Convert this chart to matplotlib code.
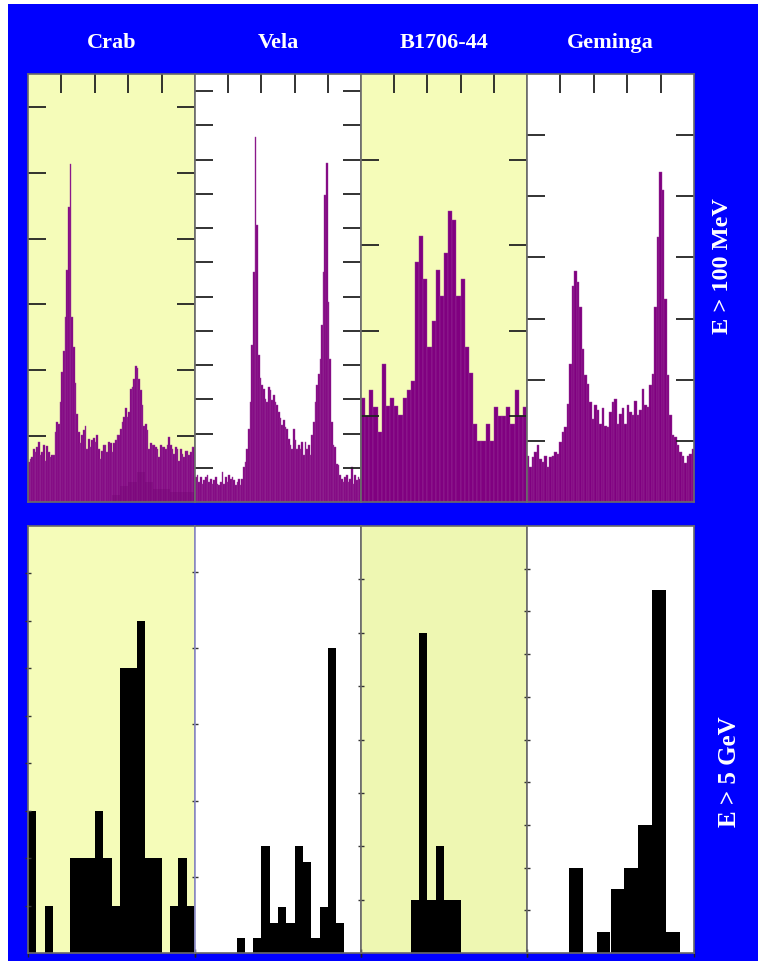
import matplotlib
matplotlib.use("Agg")
import matplotlib.pyplot as plt
from matplotlib.patches import Rectangle

# pulsar names (column titles) and energy bands (row labels)
names = ["Crab", "Vela", "B1706-44", "Geminga"]
bands = ["E > 100 MeV", "E > 5 GeV"]

# E > 100 MeV light curves, counts per phase bin in units of the y tick step
crab_hi = [0.61, 0.66, 0.68, 0.81, 0.76, 0.84, 0.91, 0.71, 0.76, 0.87,
           0.62, 0.85, 0.76, 0.68, 0.72, 0.71, 1.07, 1.21, 1.19, 1.52,
           1.97, 2.30, 2.81, 3.52, 4.48, 5.13, 2.81, 2.35, 1.80, 1.34,
           1.06, 0.89, 1.01, 1.09, 1.16, 0.81, 0.96, 0.84, 0.94, 0.97,
           0.91, 1.02, 0.81, 0.66, 0.77, 0.86, 0.87, 0.76, 0.91, 0.90,
           0.76, 0.89, 0.94, 1.01, 1.02, 1.11, 1.22, 1.29, 1.42, 1.29,
           1.37, 1.72, 1.75, 1.87, 2.07, 2.03, 1.87, 1.70, 1.47, 1.16,
           1.19, 1.09, 0.81, 0.89, 0.86, 0.86, 0.84, 0.81, 0.68, 0.86,
           0.84, 0.84, 0.81, 0.86, 0.99, 0.86, 0.81, 0.73, 0.84, 0.81,
           0.63, 0.81, 0.73, 0.68, 0.78, 0.78, 0.71, 0.76, 0.84, 0.84]
crab_hi_bg = [0, 0, 0, 0, 0, 0, 0, 0, 0, 0,
              0.10, 0.25, 0.30, 0.45, 0.30, 0.20, 0.20, 0.15, 0.15, 0.15]
vela_hi = [0.73, 0.78, 0.58, 0.73, 0.54, 0.63, 0.73, 0.78, 0.58, 0.68,
           0.54, 0.63, 0.73, 0.54, 0.49, 0.58, 0.88, 0.54, 0.73, 0.58,
           0.78, 0.68, 0.73, 0.63, 0.49, 0.58, 0.68, 0.49, 0.68, 1.02,
           1.17, 1.56, 2.14, 2.92, 4.58, 6.73, 10.67, 8.09, 4.29, 3.61,
           3.41, 3.31, 3.02, 2.92, 3.36, 3.27, 2.97, 3.12, 2.92, 2.83,
           2.63, 2.44, 2.24, 2.39, 2.19, 2.14, 1.85, 1.66, 1.56, 2.14,
           1.80, 1.56, 1.66, 1.56, 1.75, 1.36, 1.75, 1.56, 1.66, 1.36,
           1.95, 2.34, 2.92, 3.41, 3.75, 4.19, 5.17, 6.73, 8.97, 9.89,
           5.85, 4.19, 2.34, 1.66, 1.61, 1.12, 1.07, 0.78, 0.68, 0.58,
           0.73, 0.78, 0.58, 0.68, 1.02, 0.54, 0.78, 0.63, 0.73, 0.68]
b1706_hi = [1.21, 1.01, 1.31, 1.11, 0.82, 1.61, 1.12, 1.21, 1.12, 1.02,
            1.21, 1.31, 1.41, 2.80, 3.11, 2.60, 1.81, 2.11, 2.71, 2.41,
            2.91, 3.40, 3.30, 2.41, 2.60, 1.81, 1.51, 0.91, 0.71, 0.71,
            0.91, 0.71, 1.11, 1.01, 1.01, 1.11, 0.91, 1.31, 1.01, 1.11]
geminga_hi = [0.76, 0.57, 0.74, 0.82, 0.93, 0.71, 0.65, 0.76, 0.57, 0.74,
              0.76, 0.82, 0.79, 0.98, 1.14, 1.23, 1.61, 2.26, 3.54, 3.77,
              3.59, 3.19, 2.51, 2.07, 1.93, 1.63, 1.36, 1.58, 1.50, 1.28,
              1.53, 1.25, 1.23, 1.47, 1.63, 1.69, 1.28, 1.44, 1.53, 1.28,
              1.58, 1.47, 1.42, 1.66, 1.42, 1.50, 1.85, 1.58, 1.55, 1.91,
              2.10, 3.19, 4.33, 5.39, 5.11, 3.32, 2.07, 1.42, 1.09, 1.06,
              0.93, 0.82, 0.76, 0.63, 0.76, 0.79, 0.87]

# E > 5 GeV light curves, photon counts per phase bin
crab_gev = [3, 0, 1, 0, 0, 2, 2, 2, 3, 2, 1, 6, 6, 7, 2, 2, 0, 1, 2, 1]
vela_gev = [0, 0, 0, 0, 0, 1, 0, 1, 7, 2, 3, 2, 7, 6, 1, 3, 20, 2, 0, 0]
b1706_gev = [0, 0, 0, 0, 0, 0, 1, 6, 1, 2, 1, 1, 0, 0, 0, 0, 0, 0, 0, 0]
geminga_gev = [0, 0, 0, 4, 0, 1, 3, 4, 6, 17, 1, 0]

hi_curves = [crab_hi, vela_hi, b1706_hi, geminga_hi]
gev_curves = [crab_gev, vela_gev, b1706_gev, geminga_gev]
hi_ylim = [6.5, 12.5, 5.0, 7.0]
gev_ylim = [9, 28, 8, 20]
gev_step = [1, 5, 1, 2]

W, H = 758, 962
col_x = [28, 195, 361, 527, 694]
yellow = "#f5fcb9"
bg_hi = [yellow, "white", yellow, "white"]
bg_gev = [yellow, "white", "#eef7b2", "white"]
serif = ["Liberation Serif", "DejaVu Serif"]


def add_px_axes(fig, x0, x1, ytop, ybot):
    return fig.add_axes([x0 / W, 1 - ybot / H, (x1 - x0) / W, (ybot - ytop) / H])


fig = plt.figure(figsize=(W / 100, H / 100), dpi=100, facecolor="white")
fig.add_artist(Rectangle((8 / W, 0), 1 - 8 / W, 1 - 5 / H, transform=fig.transFigure,
                         facecolor="#0000ff", edgecolor="none", zorder=-10))

for i in range(4):
    # top row: phase histograms above 100 MeV
    ax = add_px_axes(fig, col_x[i], col_x[i + 1], 75, 503)
    ax.set_facecolor(bg_hi[i])
    vals = hi_curves[i]
    n = len(vals)
    ax.bar([k / n for k in range(n)], vals, width=1 / n, align="edge",
           color="#800080", edgecolor="#9a3c9a", linewidth=0.3)
    if i == 0:
        nb = len(crab_hi_bg)
        ax.bar([k / nb for k in range(nb)], crab_hi_bg, width=1 / nb, align="edge",
               color="#6e006e", edgecolor="none", alpha=0.3)
    ax.set_xlim(0, 1)
    ax.set_ylim(0, hi_ylim[i])
    ax.set_xticks([0.2, 0.4, 0.6, 0.8])
    ax.set_yticks(range(1, int(hi_ylim[i]) + 1 if hi_ylim[i] % 1 else int(hi_ylim[i])))
    ax.tick_params(axis="x", top=True, bottom=False, labeltop=False, labelbottom=False,
                   direction="in", length=14, width=1.3, color="#222222")
    ax.tick_params(axis="y", left=True, right=True, labelleft=False, labelright=False,
                   direction="in", length=13, width=1.3, color="#222222")
    for s in ax.spines.values():
        s.set_color("#6a6a6a")
        s.set_linewidth(1.2)

    # bottom row: phase histograms above 5 GeV
    ax = add_px_axes(fig, col_x[i], col_x[i + 1], 527, 954)
    ax.set_facecolor(bg_gev[i])
    vals = gev_curves[i]
    n = len(vals)
    ax.bar([k / n for k in range(n)], vals, width=1 / n, align="edge",
           color="black", edgecolor="none", linewidth=0)
    ax.set_xlim(0, 1)
    ax.set_ylim(0, gev_ylim[i])
    ax.set_xticks([0, 1])
    ax.set_yticks(range(gev_step[i], gev_ylim[i], gev_step[i]))
    ax.tick_params(axis="x", bottom=True, labelbottom=False, direction="inout",
                   length=6, width=1, color="#222222")
    ax.tick_params(axis="y", left=True, right=False, labelleft=False,
                   direction="inout", length=5, width=1, color="#333333")
    for s in ax.spines.values():
        s.set_color("#6a6a6a")
        s.set_linewidth(1.2)
    if i == 1:
        ax.spines["left"].set_color("#8c8cc8")

    fig.text((col_x[i] + col_x[i + 1]) / 2 / W, 1 - 43 / H, names[i], color="white",
             ha="center", va="center", fontsize=16, fontweight="bold", family=serif)

fig.text(722 / W, 1 - 266 / H, bands[0], color="white", rotation=90, ha="center",
         va="center", fontsize=17.5, fontweight="bold", family=serif)
fig.text(729 / W, 1 - 772 / H, bands[1], color="white", rotation=90, ha="center",
         va="center", fontsize=18, fontweight="bold", family=serif)

fig.savefig("out.png", dpi=100, facecolor="white")
